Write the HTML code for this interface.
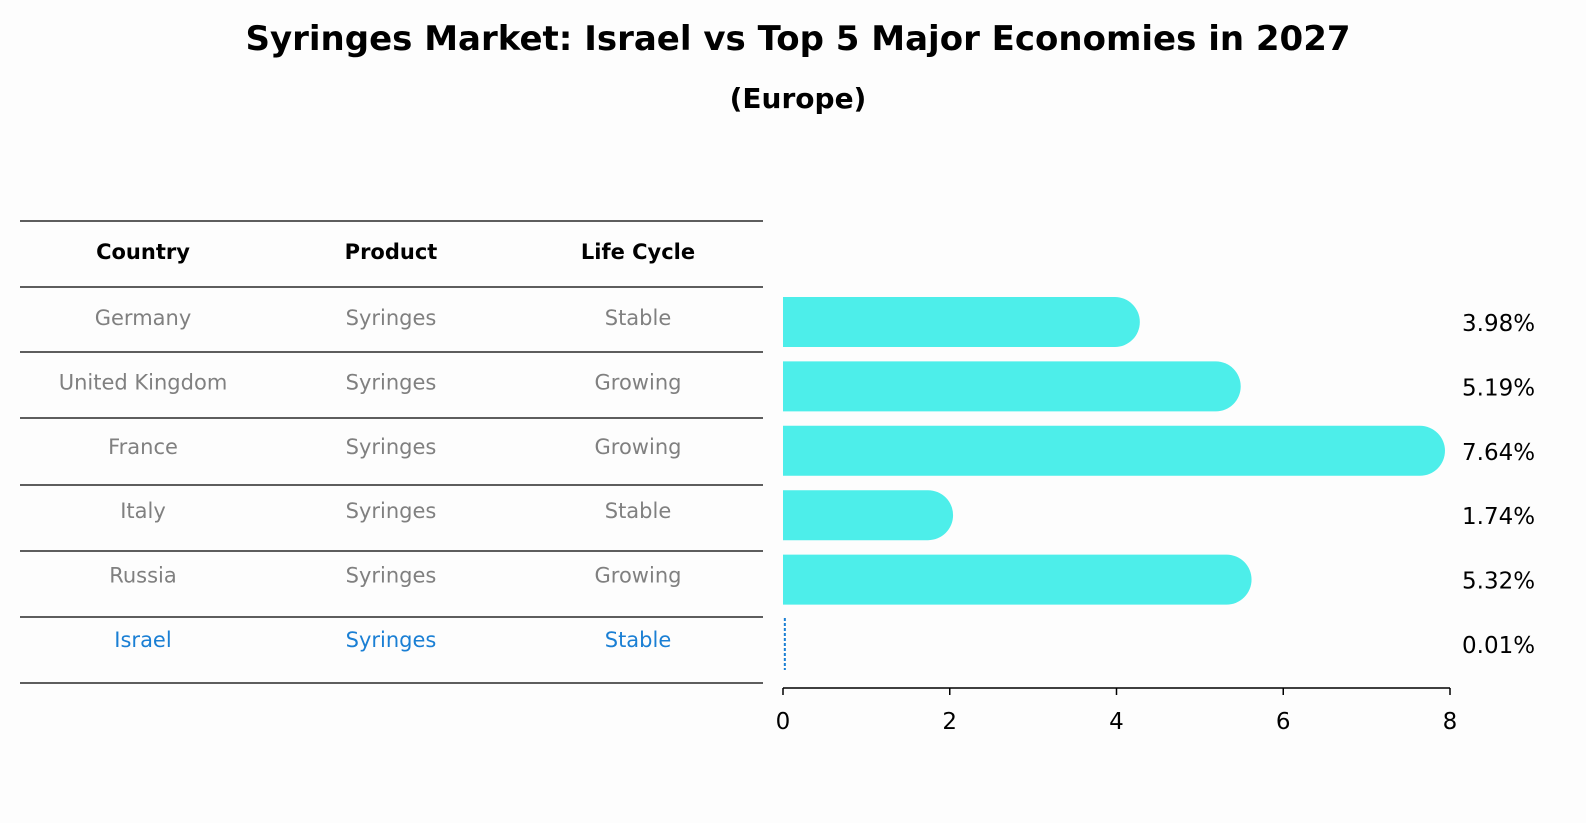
<!DOCTYPE html>
<html><head><meta charset="utf-8"><style>
body{margin:0;background:#fdfdfd;font-family:"Liberation Sans","DejaVu Sans",sans-serif}
svg{display:block}
</style></head><body>
<svg width="1586" height="823">
<text x="798" y="50" text-anchor="middle" font-size="34" font-weight="bold" font-family="DejaVu Sans, sans-serif" font-size-adjust="none">Syringes Market: Israel vs Top 5 Major Economies in 2027</text>
<text x="798" y="108" text-anchor="middle" font-size="28" font-weight="bold" font-family="DejaVu Sans, sans-serif">(Europe)</text>
<g id="table"></g>
<g id="bars"></g>
</svg>
<script>
const countries=["Germany","United Kingdom","France","Italy","Russia","Israel"];
const products=["Syringes","Syringes","Syringes","Syringes","Syringes","Syringes"];
const cycles=["Stable","Growing","Growing","Stable","Growing","Stable"];
const values=[3.98,5.19,7.64,1.74,5.32,0.01];
const ticks=[0,2,4,6,8];
const NS="http://www.w3.org/2000/svg";
const x=v=>783+v*(1450-783)/8;
const rowY=i=>322+i*64.4;
function mk(tag,attrs,parent,txt){const e=document.createElementNS(NS,tag);for(const k in attrs)e.setAttribute(k,attrs[k]);if(txt!==undefined)e.textContent=txt;parent.appendChild(e);return e;}
const T=document.getElementById('table'),B=document.getElementById('bars');
const lines=[221,287,352,418,485,551,617,683];
lines.forEach(y=>{const l=mk('line',{x1:20,x2:763,y1:y,y2:y,stroke:'#000','stroke-width':1.2},T);

});
const cx=[143,391,638];
["Country","Product","Life Cycle"].forEach((h,j)=>{const t=mk('text',{x:cx[j],y:259,'text-anchor':'middle','font-size':21,'font-weight':'bold','font-family':'DejaVu Sans, sans-serif'},T,h);

});
countries.forEach((c,i)=>{const col=i===5?'#1a7fd4':'#808080';const cy=rowY(i)+3;
[c,products[i],cycles[i]].forEach((s,j)=>{const t=mk('text',{x:cx[j],y:cy,'text-anchor':'middle','font-size':21,fill:col,'font-family':'DejaVu Sans, sans-serif'},T,s);

});
const v=values[i];
if(v>0.1){const p=mk('path',{d:`M${x(0)},${rowY(i)-25}H${x(v)}A25,25 0 0 1 ${x(v)},${rowY(i)+25}H${x(0)}Z`,fill:'#4deeea'},B);

}
else{const p=mk('line',{x1:x(v)+1,x2:x(v)+1,y1:rowY(i)-26,y2:rowY(i)+26,stroke:'#1a7fd4','stroke-width':2,'stroke-dasharray':'3,2'},B);

}
const lb=mk('text',{x:1462,y:rowY(i)+9,'font-size':23,'font-family':'DejaVu Sans, sans-serif'},B,v.toFixed(2)+'%');

});
const ax=mk('line',{x1:x(0),x2:x(8),y1:688,y2:688,stroke:'#000','stroke-width':1.5},B);


ticks.forEach(t=>{const l=mk('line',{x1:x(t),x2:x(t),y1:688,y2:695,stroke:'#000','stroke-width':1.5},B);


const tx=mk('text',{x:x(t),y:729,'text-anchor':'middle','font-size':23,'font-family':'DejaVu Sans, sans-serif'},B,t);

});
</script>
</body></html>
